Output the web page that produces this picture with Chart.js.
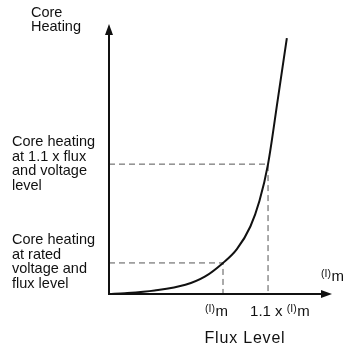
<!DOCTYPE html>
<html>
<head>
<meta charset="utf-8">
<script src="https://cdn.jsdelivr.net/npm/chart.js@4"></script>
<style>
  html, body { margin: 0; padding: 0; background: #fff; }
  #wrap { width: 343px; height: 347px; }
</style>
</head>
<body>
<div id="wrap"><canvas id="chartCore" width="343" height="347"></canvas></div>
<script>
// flux (units of rated flux, schematic) vs core heating (arbitrary units)
var fluxLevel   = [0, 0.14, 0.40, 0.67, 0.84, 1.0, 1.12, 1.24, 1.32, 1.395, 1.48, 1.56];
var coreHeating = [0, 0.03, 0.13, 0.34, 0.64, 1.15, 1.65, 2.50, 3.45, 4.81, 7.19, 9.48];

// rated and 1.1 x operating points
var markFlux = [1.0, 1.395];
var markHeat = [1.15, 4.81];
var markTicks = ['', '1.1 x '];

var xMax = 1.956, yMax = 10;
var FONT = '"Liberation Sans", Arial, Helvetica, sans-serif';

function curvePoints() {
    var pts = [];
    for (var i = 0; i < fluxLevel.length; i++) pts.push({ x: fluxLevel[i], y: coreHeating[i] });
    return pts;
}

function guide(i) {
    return {
        data: [{ x: 0, y: markHeat[i] }, { x: markFlux[i], y: markHeat[i] }, { x: markFlux[i], y: 0 }],
        borderColor: '#555',
        borderWidth: 1,
        borderDash: [6, 4],
        pointRadius: 0,
        tension: 0,
        showLine: true
    };
}

// "(I)m" with the small raised (I)
function phiM(ctx, x, y, prefix) {
    ctx.font = '15px ' + FONT;
    ctx.fillText(prefix, x, y);
    x += ctx.measureText(prefix).width;
    ctx.font = '10.5px ' + FONT;
    ctx.fillText('(I)', x, y - 3);
    x += ctx.measureText('(I)').width + 0.5;
    ctx.font = '15px ' + FONT;
    ctx.fillText('m', x, y);
}

function block(ctx, lines, x, y, step) {
    ctx.font = '14.5px ' + FONT;
    for (var i = 0; i < lines.length; i++) ctx.fillText(lines[i], x, y + i * step);
}

var axesPlugin = {
    id: 'arrowAxes',
    afterDatasetsDraw: function (chart) {
        var ctx = chart.ctx;
        var xs = chart.scales.x, ys = chart.scales.y;
        var x0 = xs.getPixelForValue(0), y0 = ys.getPixelForValue(0);
        var xEnd = xs.getPixelForValue(xMax), yTop = ys.getPixelForValue(yMax);

        ctx.save();
        ctx.strokeStyle = '#111';
        ctx.fillStyle = '#111';
        ctx.lineWidth = 2;
        ctx.beginPath();
        ctx.moveTo(x0, yTop + 8);
        ctx.lineTo(x0, y0);
        ctx.lineTo(xEnd - 8, y0);
        ctx.stroke();

        ctx.beginPath();
        ctx.moveTo(x0, yTop);
        ctx.lineTo(x0 - 4, yTop + 11);
        ctx.lineTo(x0 + 4, yTop + 11);
        ctx.closePath();
        ctx.fill();

        ctx.beginPath();
        ctx.moveTo(xEnd, y0);
        ctx.lineTo(xEnd - 11, y0 - 4);
        ctx.lineTo(xEnd - 11, y0 + 4);
        ctx.closePath();
        ctx.fill();

        ctx.textBaseline = 'middle';
        ctx.textAlign = 'left';
        block(ctx, ['Core', 'Heating'], 31, 13, 14);
        block(ctx, ['Core heating', 'at 1.1 x flux', 'and voltage', 'level'], 12, 142, 14.6);
        block(ctx, ['Core heating', 'at rated', 'voltage and', 'flux level'], 12, 240, 14.6);

        for (var i = 0; i < markFlux.length; i++) {
            phiM(ctx, xs.getPixelForValue(markFlux[i]) - 18, 312, markTicks[i]);
        }
        phiM(ctx, 321, 277, '');

        ctx.font = '16px ' + FONT;
        ctx.letterSpacing = '0.8px';
        ctx.textAlign = 'center';
        ctx.fillText('Flux Level', 245, 339);
        ctx.restore();
    }
};

window.onload = function () {
    new Chart(document.getElementById('chartCore'), {
        type: 'scatter',
        data: {
            datasets: [
                {
                    data: curvePoints(),
                    borderColor: '#111',
                    borderWidth: 2,
                    pointRadius: 0,
                    showLine: true,
                    cubicInterpolationMode: 'monotone'
                },
                guide(0),
                guide(1)
            ]
        },
        options: {
            responsive: false,
            animation: false,
            layout: { padding: { left: 109, right: 11, top: 24, bottom: 53 } },
            plugins: { legend: { display: false }, tooltip: { enabled: false } },
            scales: {
                x: { type: 'linear', min: 0, max: xMax, display: false },
                y: { type: 'linear', min: 0, max: yMax, display: false }
            }
        },
        plugins: [axesPlugin]
    });
};
</script>
</body>
</html>
